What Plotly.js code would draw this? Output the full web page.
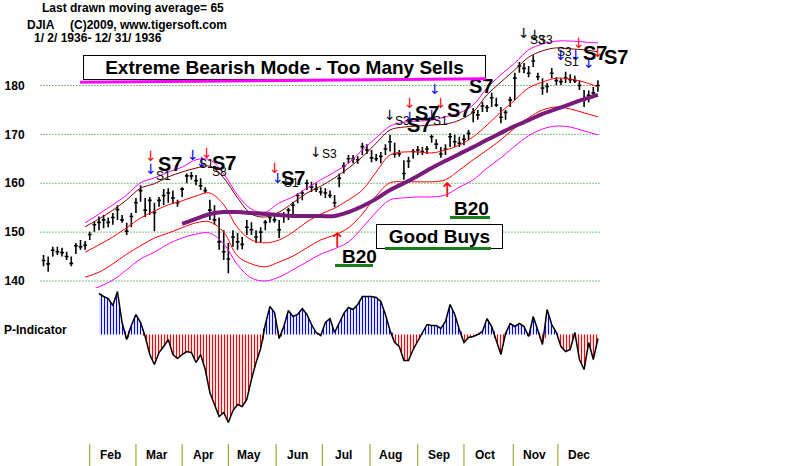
<!DOCTYPE html>
<html><head><meta charset="utf-8">
<script src="https://cdn.plot.ly/plotly-3.0.1.min.js"></script>
<style>html,body{margin:0;padding:0;background:#fff}#chart{width:800px;height:466px}</style>
</head><body><div id="chart"></div>
<script>
// ---- DATA ----
const barStart = '1936-01-02', barStepDays = 3;
const high = [145.3,145.0,147.0,147.0,146.8,146.0,145.0,147.8,148.4,148.2,
150.1,152.1,153.2,153.5,153.0,153.9,155.5,153.5,151.9,153.9,
157.0,159.6,157.0,157.2,156.0,157.2,158.8,159.0,158.5,156.6,
159.2,162.0,162.3,161.7,161.0,159.2,156.6,155.5,153.0,150.4,
147.8,150.4,149.8,149.0,152.5,152.0,150.4,151.0,152.5,153.5,
153.3,152.5,154.1,155.0,156.2,158.0,158.5,160.7,160.3,160.0,
159.2,159.0,158.5,157.6,162.0,164.3,165.8,165.8,165.5,168.3,
168.0,166.8,166.0,166.4,168.0,169.9,168.3,166.8,164.7,165.4,
167.0,167.6,167.4,167.6,169.9,169.0,167.4,168.0,170.3,169.9,
169.5,169.9,170.9,175.4,175.0,176.6,176.0,178.5,177.5,175.6,
175.0,177.7,182.6,184.8,184.6,184.0,186.2,182.6,181.5,180.5,
183.6,181.7,181.5,182.8,182.3,182.0,181.1,179.1,179.0,179.7,181.1];
const low = [143.0,141.9,145.0,145.3,145.0,144.3,143.0,145.5,146.4,146.4,
148.4,150.1,150.4,150.8,151.0,151.5,152.5,151.9,149.4,151.0,
153.9,156.2,153.1,153.5,150.2,155.2,155.5,156.0,155.8,155.2,
157.2,160.0,160.7,159.6,158.6,158.0,152.5,151.5,146.4,144.3,
141.6,147.0,146.4,146.5,149.4,149.4,147.8,148.0,150.4,151.9,
151.9,148.8,151.9,152.5,153.5,155.9,156.5,158.6,158.2,158.2,
157.5,157.0,157.0,155.1,159.2,162.0,164.1,164.1,164.0,165.8,
166.0,164.3,164.5,164.1,165.8,166.5,165.2,165.4,160.7,163.1,
165.0,165.8,165.8,166.0,168.3,167.0,165.2,165.8,167.4,167.4,
167.4,167.8,168.8,172.5,173.0,174.6,174.6,175.6,175.6,172.3,
173.0,175.6,177.0,182.6,182.5,181.7,183.8,181.1,178.1,178.5,
181.5,180.1,180.1,180.5,180.5,180.5,179.1,175.6,176.5,177.4,178.7];
const close = [144.2,143.5,146.3,146.0,145.8,145.0,143.6,147.2,147.0,147.3,
149.5,151.5,152.0,152.5,152.0,153.0,154.6,152.5,150.2,153.2,
156.0,158.5,154.5,156.5,154.0,156.5,157.5,158.0,157.0,156.0,
158.8,161.5,161.5,160.5,159.5,158.5,154.5,152.5,148.0,146.0,
144.5,149.0,148.0,147.5,151.0,150.5,149.0,150.0,152.0,153.0,
152.5,150.5,153.5,154.5,155.5,157.5,158.0,160.0,159.2,158.8,
158.2,158.0,157.5,156.0,161.0,163.5,165.0,165.0,164.8,167.5,
166.8,165.2,165.0,165.5,167.0,168.5,166.0,166.0,162.0,164.5,
166.5,166.8,166.5,167.0,169.5,168.0,166.0,167.0,169.5,168.5,
168.2,169.0,170.2,174.5,174.0,175.8,175.5,177.5,176.0,173.5,
174.5,177.0,181.5,184.0,183.5,182.5,185.0,181.8,179.5,179.8,
182.5,181.0,180.8,181.5,181.2,181.0,180.0,177.0,178.0,178.5,180.0];
const pIndicator = [null,null,null,null,null,null,null,null,null,null,null,null,
41,38,36,29,43,12,-5,9,20,12,
-2,-20,-30,-18,-12,-5,-20,-24,-20,-17,
-18,-28,-20,-35,-58,-70,-82,-78,-88,-76,
-70,-72,-65,-45,-28,-14,10,28,22,-4,
8,24,18,20,26,20,10,2,-1,12,
16,2,12,21,27,25,30,38,38,38,
37,33,20,4,-8,-12,-26,-26,-15,-7,
1,10,9,9,6,13,30,20,5,-8,
-3,-2,0,3,16,8,-6,-20,1,11,
8,11,8,-2,18,3,-10,25,10,2,
-12,-17,-15,2,-25,-35,-8,-25,-4];

const bandStart = '1936-01-29', bandStepDays = 9;
const upperOuter = [151.9,153.7,155.6,157.6,160.1,161.1,162.3,163.3,164.8,164.8,161.9,157.6,154.7,154.1,156.0,157.2,159.0,160.7,162.3,164.1,166.8,169.3,171.7,172.5,172.7,172.9,173.6,174.4,176.0,179.5,182.2,184.6,187.3,188.5,189.1,189.1,188.9,188.7];
const upperInner = [151.1,152.7,154.5,156.6,159.0,159.9,161.3,162.3,163.1,163.5,161.1,157.0,153.7,153.1,154.1,156.0,158.0,159.4,161.1,163.1,165.4,168.2,170.9,171.5,171.7,171.9,172.1,172.9,174.6,178.1,180.7,183.2,185.8,187.1,187.7,187.5,187.3,186.9];
const ma21 = [145.9,147.4,149.0,150.9,152.9,154.3,155.6,156.4,157.4,158.0,155.6,150.9,148.4,147.8,148.4,150.0,152.1,153.7,154.9,156.6,158.6,162.3,165.8,166.4,166.4,166.2,166.8,167.8,169.5,171.9,174.6,177.0,179.5,180.7,181.5,181.3,180.7,179.7];
const lowerInner = [140.8,141.8,143.5,145.5,147.2,148.8,149.8,150.9,151.9,152.1,150.0,145.1,143.5,142.9,143.9,145.1,146.8,148.4,149.4,150.9,153.7,157.4,160.1,160.3,160.3,160.3,160.7,162.7,164.8,166.8,168.9,171.3,173.4,175.0,175.6,175.2,174.4,173.6];
const lowerOuter = [137.8,138.8,140.2,142.3,144.5,145.9,147.6,148.8,149.6,149.8,147.6,143.3,140.6,140.0,140.8,142.3,143.9,145.5,146.6,148.0,150.9,154.1,156.6,157.0,157.2,157.2,157.6,159.2,160.7,163.1,165.2,167.6,169.7,171.1,171.7,171.5,170.7,169.9];
const ma65 = [null,null,null,null,null,null,null,151.7,152.7,153.7,154.1,154.1,153.9,153.7,153.5,153.3,153.3,153.3,153.3,154.1,155.3,156.8,158.6,160.0,161.5,163.1,164.6,166.0,167.4,168.9,170.3,171.7,172.9,174.2,175.2,176.2,177.2,178.1];

const yTicks = [140,150,160,170,180];
const monthNames = ['Feb','Mar','Apr','May','Jun','Jul','Aug','Sep','Oct','Nov','Dec'];
const monthStarts = ['1936-02-01','1936-03-02','1936-04-01','1936-05-01','1936-06-01','1936-07-01','1936-08-01','1936-09-01','1936-10-01','1936-11-02','1936-12-01'];

// signals: date, price, text, colour, size
const sigDates = ['1936-03-12','1936-03-12','1936-03-24','1936-03-20','1936-04-08','1936-04-14','1936-04-17','1936-04-17','1936-04-28','1936-04-25',
'1936-05-31','1936-06-02','1936-06-11','1936-06-12','1936-06-27','1936-07-06','1936-08-14','1936-08-22','1936-08-27','1936-09-16',
'1936-08-27','1936-09-10','1936-09-02','1936-09-07','1936-09-16','1936-09-28','1936-10-12','1936-09-12','1936-11-09','1936-11-16',
'1936-11-18','1936-11-23','1936-12-05','1936-12-03','1936-12-13','1936-12-21','1936-12-10','1936-12-15','1936-12-27','1936-12-25','1937-01-08',
'1936-07-11','1936-09-20','1936-07-25','1936-10-06'];
const sigPrices = [165.6,162.9,163.9,161.5,165.8,164.3,166.2,164.0,164.1,162.3,
163.1,161.1,160.0,161.1,166.4,166.0,174.0,172.7,176.4,176.4,
173.5,174.0,171.9,174.4,172.7,175.0,179.9,179.3,190.7,190.3,
189.3,189.3,186.9,186.2,186.2,184.6,184.8,188.7,186.9,186.6,185.8,
148.4,158.6,145.1,154.9];
const sigTexts = ['↓','↓','S7','S1','↓','↓','↓','S1','S7','S8',
'↓','↓','S1','S7','↓','S3','↓','S3','↓','↓',
'↓','↓','S7','S7','S1','S7','S7','↓','↓','↓',
'S3','S3','S3','↓','↓','↓','S1','↓','↓','S7','S7',
'↑','↑','B20','B20'];
const sigColors = ['#ff0000','#0000ff','#000','#000','#0000ff','#0000ff','#ff0000','#000','#000','#000',
'#ff0000','#0000ff','#000','#000','#000','#000','#000','#000','#ff0000','#ff0000',
'#0000ff','#0000ff','#000','#000','#000','#000','#000','#0000ff','#000','#000',
'#000','#000','#000','#0000ff','#0000ff','#0000ff','#000','#ff0000','#ff0000','#000','#000',
'#ff0000','#ff0000','#000','#000'];
const sigSizes = [14,14,20,12,14,14,14,12,20,12,
14,14,12,20,14,12,14,12,14,14,
14,14,20,20,12,20,20,14,14,14,
12,12,12,14,14,14,12,14,14,20,20,
20,20,19,19];

// ---- BUILD ----
const FONT = 'Liberation Sans, Arial, sans-serif';
function seq(start, step, n){
  const t0 = Date.parse(start + 'T00:00:00Z');
  return Array.from({length:n}, (_, i) => new Date(t0 + i*step*86400000).toISOString().slice(0,10));
}
const barDates = seq(barStart, barStepDays, close.length);
const bandDates = seq(bandStart, bandStepDays, ma21.length);
const pPos = pIndicator.map(v => v == null ? null : Math.max(v, 0));
const pNeg = pIndicator.map(v => v == null ? null : Math.min(v, 0));

function band(y, color, width){
  return {type:'scatter', mode:'lines', x:bandDates, y:y, xaxis:'x', yaxis:'y',
    line:{color:color, width:width, shape:'spline', smoothing:1}, hoverinfo:'skip'};
}
const traces = [
  band(upperOuter, '#ff00ff', 1),
  band(upperInner, '#800000', 1),
  band(ma21, '#ff0000', 1),
  band(lowerInner, '#ff0000', 1),
  band(lowerOuter, '#ff00ff', 1),
  band(ma65, '#7a1a7a', 4),
  {type:'ohlc', x:barDates, open:close, high:high, low:low, close:close, xaxis:'x', yaxis:'y',
    increasing:{line:{color:'#000', width:1.6}}, decreasing:{line:{color:'#000', width:1.6}},
    tickwidth:0.4, hoverinfo:'skip'},
  {type:'scatter', mode:'lines', x:barDates, y:pPos, xaxis:'x', yaxis:'y2', fill:'tozeroy',
    line:{width:0, color:'rgba(0,0,0,0)'}, fillcolor:'rgba(0,0,0,0)',
    fillpattern:{shape:'|', fgcolor:'#0000ff', bgcolor:'rgba(0,0,0,0)', size:3, solidity:0.4}, hoverinfo:'skip'},
  {type:'scatter', mode:'lines', x:barDates, y:pNeg, xaxis:'x', yaxis:'y2', fill:'tozeroy',
    line:{width:0, color:'rgba(0,0,0,0)'}, fillcolor:'rgba(0,0,0,0)',
    fillpattern:{shape:'|', fgcolor:'#ff0000', bgcolor:'rgba(0,0,0,0)', size:3, solidity:0.4}, hoverinfo:'skip'},
  {type:'scatter', mode:'lines', x:barDates, y:pIndicator, xaxis:'x', yaxis:'y2',
    line:{color:'#000', width:1.5}, hoverinfo:'skip'}
];

const shapes = [];
yTicks.forEach(v => shapes.push({type:'line', xref:'x', yref:'y', x0:'1935-12-31', x1:'1936-12-29', y0:v, y1:v,
  line:{color:'#008000', width:1, dash:'1px,2px'}, layer:'below'}));
monthStarts.forEach(d => shapes.push({type:'line', xref:'x', yref:'paper', x0:d, x1:d, y0:0, y1:0.047,
  line:{color:'#8a9a10', width:1}}));

const ann = [];
function txt(x, y, text, size, opts){
  return Object.assign({xref:'paper', yref:'paper', x:x, y:y, text:text, showarrow:false,
    xanchor:'left', yanchor:'middle', font:{family:FONT, size:size, color:'#000', weight:'bold'}}, opts||{});
}
ann.push(txt(0, 0.9828, 'Last drawn moving average= 65', 12));
ann.push(txt(-0.0197, 0.9464, 'DJIA', 12));
ann.push(txt(0.0368, 0.9464, '(C)2009, www.tigersoft.com', 12));
ann.push(txt(-0.0105, 0.9185, '1/ 2/ 1936- 12/ 31/ 1936', 12));
ann.push(txt(-0.05, 0.2918, 'P-Indicator', 12));
monthNames.forEach((m, i) => {
  const d = new Date(Date.parse(monthStarts[i] + 'T00:00:00Z') + 13.6*86400000).toISOString();
  ann.push({xref:'x', yref:'paper', x:d, y:0.0236, text:m, showarrow:false, xanchor:'center', yanchor:'middle',
    font:{family:FONT, size:12, color:'#000', weight:'bold'}});
});
sigTexts.forEach((t, i) => {
  const bold = /S7|B20/.test(t);
  ann.push({xref:'x', yref:'y', x:sigDates[i], y:sigPrices[i], text:t, showarrow:false,
    xanchor:'center', yanchor:'middle',
    font:{family: t.length === 1 ? 'DejaVu Sans, sans-serif' : FONT, size:sigSizes[i], color:sigColors[i], weight: bold ? 'bold' : 'normal'}});
});
// boxes and underlines
ann.push({xref:'paper', yref:'paper', x:0.3217, y:0.8541, text:'Extreme Bearish Mode - Too Many Sells', showarrow:false,
  xanchor:'center', yanchor:'middle', width:401, height:23, borderpad:0, borderwidth:1, bordercolor:'#000', bgcolor:'#fff',
  font:{family:FONT, size:19, color:'#000', weight:'bold'}});
ann.push({xref:'paper', yref:'paper', x:0.5257, y:0.4925, text:'Good Buys', showarrow:false,
  xanchor:'center', yanchor:'middle', width:125, height:23, borderpad:0, borderwidth:1, bordercolor:'#000', bgcolor:'#fff',
  font:{family:FONT, size:19, color:'#000', weight:'bold'}});
function bar(x, y, w, color, angle){
  return {xref:'paper', yref:'paper', x:x, y:y, text:' ', showarrow:false, xanchor:'center', yanchor:'middle',
    width:w, height:3, borderpad:0, borderwidth:0, bgcolor:color, textangle:angle||0, font:{size:1}};
}
ann.push(bar(0.3197, 0.8278, 406, '#ff00ff', -0.5));
ann.push(bar(0.5237, 0.4667, 106, '#1a7f1a'));
ann.push(bar(0.4132, 0.4313, 38, '#1a7f1a'));
ann.push(bar(0.5658, 0.5322, 40, '#1a7f1a'));

const layout = {
  width:800, height:466, margin:{l:40, r:0, t:0, b:0},
  paper_bgcolor:'#fff', plot_bgcolor:'#fff', showlegend:false,
  xaxis:{type:'date', range:['1935-12-30 16:48', '1937-05-07 05:00'], showgrid:false, zeroline:false,
    showline:false, showticklabels:false, ticks:'', rangeslider:{visible:false}, fixedrange:true},
  yaxis:{domain:[0.35622, 1], range:[136.113, 197.494], tickvals:yTicks, ticktext:yTicks.map(String),
    ticks:'outside', ticklen:12, tickcolor:'rgba(0,0,0,0)', showgrid:false, zeroline:false, showline:false,
    tickfont:{family:FONT, size:12, color:'#000', weight:'bold'}},
  yaxis2:{domain:[0.07725, 0.38197], range:[-95.5, 46.5], showgrid:false, zeroline:false, showline:false,
    showticklabels:false, ticks:''},
  shapes:shapes, annotations:ann
};
Plotly.newPlot('chart', traces, layout, {staticPlot:true, displayModeBar:false});
</script></body></html>
